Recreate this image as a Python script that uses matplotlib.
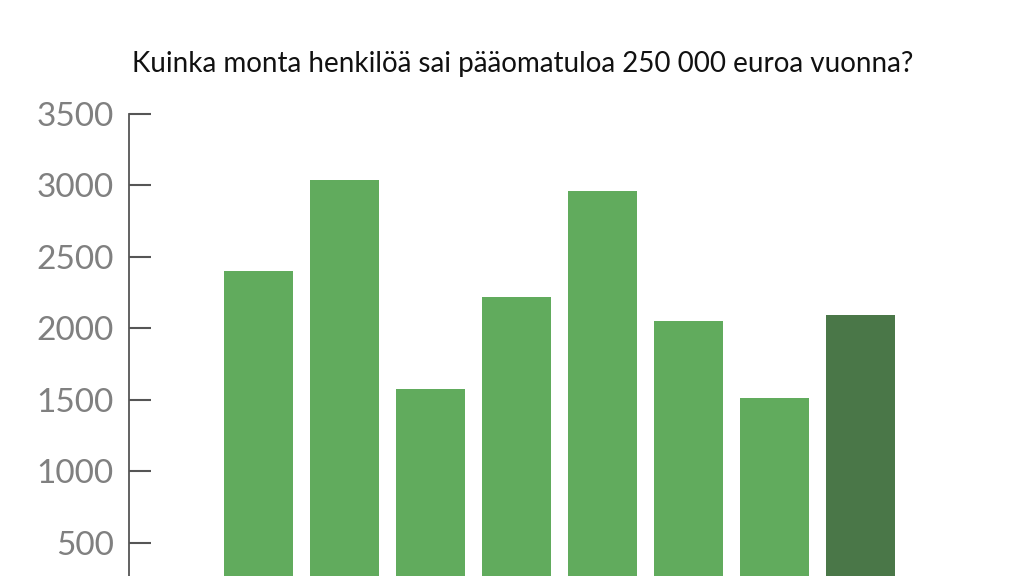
import matplotlib
matplotlib.use("Agg")
import matplotlib.pyplot as plt


# ==================================
# DATA
# ==================================

years = ["2010", "2011", "2012", "2013", "2014", "2015", "2016", "2017"]

persons = [2400, 3040, 1575, 2220, 2960, 2050, 1510, 2090]

bar_colors = ["#61ab5d"] * 7 + ["#4a7748"]

y_ticks = [500, 1000, 1500, 2000, 2500, 3000, 3500]


# ==================================
# PLOT
# ==================================

plt.rcParams["font.family"] = ["Lato", "DejaVu Sans"]

fig = plt.figure(figsize=(10.24, 5.76), dpi=100)

# axes runs past the bottom of the picture, like the cropped original
ax = fig.add_axes([0.126, -0.066, 0.84, 0.868])

x = list(range(len(years)))

ax.bar(x, persons, width=0.8, color=bar_colors)

ax.set_ylim(0, 3500)
ax.set_xlim(-1.506, 8.5)

ax.set_yticks(y_ticks)
ax.set_yticklabels([str(v) for v in y_ticks])
# year labels sit below the visible area in the original crop
ax.set_xticks(x)
ax.set_xticklabels([])

ax.tick_params(axis="y", direction="in", length=16, width=1.5,
               color="#555555", labelcolor="#808080",
               labelsize=24, pad=11)
ax.tick_params(axis="x", length=0)

for side in ["top", "right", "bottom"]:
    ax.spines[side].set_visible(False)
ax.spines["left"].set_color("#555555")
ax.spines["left"].set_linewidth(1.3)

fig.text(0.51, 0.889,
         "Kuinka monta henkilöä sai pääomatuloa 250 000 euroa vuonna?",
         ha="center", va="center", fontsize=20, color="#111111")

fig.savefig("out.png", dpi=100)
